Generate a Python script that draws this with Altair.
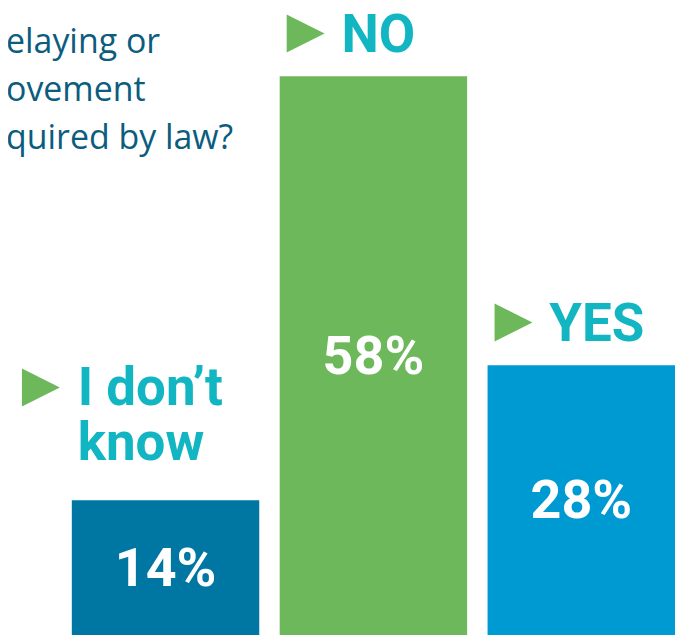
import altair as alt
import pandas as pd

# Data
keys = ["idk", "no", "yes"]
labels = ["I don’t\nknow", "NO", "YES"]
values = [14, 58, 28]
bar_colors = ["#0077A3", "#6DB85B", "#009AD3"]
question_lines = "elaying or\novement\nquired by law?"

df = pd.DataFrame({"key": keys, "label": labels, "value": values})

x_enc = alt.X("key:N", sort=keys, axis=None,
              scale=alt.Scale(paddingInner=0.0983, paddingOuter=0))
x_start = alt.X("key:N", sort=keys, axis=None, bandPosition=0,
                scale=alt.Scale(paddingInner=0.0983, paddingOuter=0))
y_scale = alt.Scale(domain=[0, 65], nice=False, zero=True)

base = alt.Chart(df)

bars = base.mark_bar().encode(
    x=x_enc,
    y=alt.Y("value:Q", scale=y_scale, axis=None),
    color=alt.Color("key:N", scale=alt.Scale(domain=keys, range=bar_colors), legend=None),
)

pct = base.transform_calculate(
    mid="datum.value / 2", txt="datum.value + '%'"
).mark_text(
    font="Roboto", fontSize=54, fontWeight="bold", color="white",
    align="center", baseline="middle", dy=2
).encode(
    x=x_enc,
    y=alt.Y("mid:Q", scale=y_scale, axis=None),
    text="txt:N",
)

tri_shape = "M-1,-1L1,0L-1,1Z"
green = "#6DB85B"
teal = "#12B5C2"

single = base.transform_filter("datum.key != 'idk'")
tri1 = single.mark_point(shape=tri_shape, filled=True, size=1444, color=green,
                         opacity=1, xOffset=26, yOffset=-43).encode(
    x=x_start, y=alt.Y("value:Q", scale=y_scale, axis=None))
lab1 = single.mark_text(font="Roboto", fontSize=53, fontWeight="bold", color=teal,
                        align="left", baseline="alphabetic", dx=62, dy=-24).encode(
    x=x_start, y=alt.Y("value:Q", scale=y_scale, axis=None), text="label:N")

multi = base.transform_filter("datum.key == 'idk'")
tri2 = multi.mark_point(shape=tri_shape, filled=True, size=1444, color=green,
                        opacity=1, xOffset=-31, yOffset=-113).encode(
    x=x_start, y=alt.Y("value:Q", scale=y_scale, axis=None))
lab2 = multi.mark_text(font="Roboto", fontSize=53, fontWeight="bold", color=teal,
                       align="left", baseline="alphabetic", dx=6, dy=-95,
                       lineBreak="\n", lineHeight=55).encode(
    x=x_start, y=alt.Y("value:Q", scale=y_scale, axis=None), text="label:N")

question = alt.Chart(pd.DataFrame({"t": [question_lines]})).mark_text(
    font="Open Sans", fontSize=34, color="#0B5C7E", align="left",
    baseline="alphabetic", lineBreak="\n", lineHeight=48
).encode(x=alt.value(-66), y=alt.value(44), text="t:N")

chart = alt.layer(bars, pct, tri1, lab1, tri2, lab2, question).properties(
    width=605, height=628,
    padding={"left": 64, "top": 0, "right": 0, "bottom": 0},
    autosize=alt.AutoSizeParams(type="none"),
    background="white",
).configure_view(stroke=None)

chart.save("out.html", embed_options={"renderer": "svg", "actions": False})
